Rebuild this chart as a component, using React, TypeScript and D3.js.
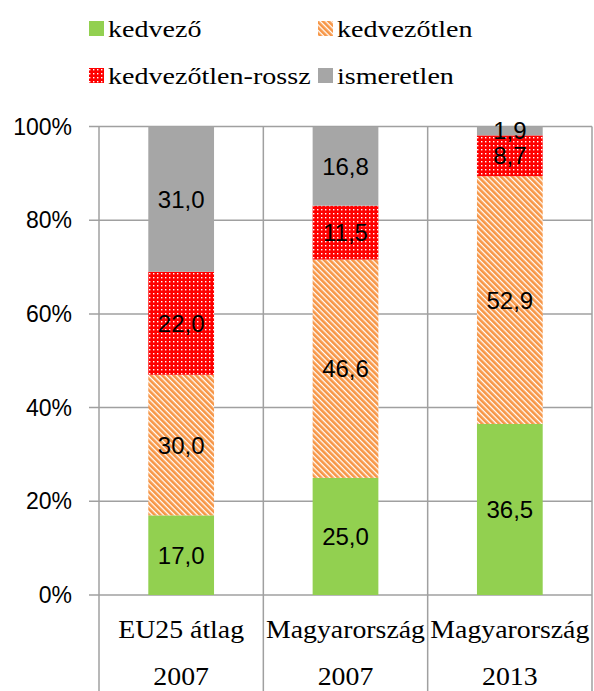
import React from 'react';
import * as d3 from 'd3';

const categories = ['EU25 átlag', 'Magyarország', 'Magyarország'];
const years = ['2007', '2007', '2013'];
const seriesNames = ['kedvező', 'kedvezőtlen', 'kedvezőtlen-rossz', 'ismeretlen'];
const kedvezo = [17.0, 25.0, 36.5];
const kedvezotlen = [30.0, 46.6, 52.9];
const rossz = [22.0, 11.5, 8.7];
const ismeretlen = [31.0, 16.8, 1.9];
const yTicks = [0, 20, 40, 60, 80, 100];

const W = 594;
const H = 691;
const plot = { left: 99, right: 592, top: 126.5, bottom: 595 };
const serif = '"Liberation Serif", "Times New Roman", serif';
const sans = '"Liberation Sans", Arial, sans-serif';
const fills = ['#92D050', 'url(#stripes)', 'url(#dots)', '#A6A6A6'];

const fmt = (v: number) => v.toFixed(1).replace('.', ',');

const App: React.FC = () => {
  const keys = categories.map((_, i) => `c${i}`);
  const rows = keys.map((k, i) => ({
    key: k,
    s0: kedvezo[i],
    s1: kedvezotlen[i],
    s2: rossz[i],
    s3: ismeretlen[i],
  }));
  const stack = d3.stack<any>().keys(['s0', 's1', 's2', 's3']);
  const layers = stack(rows);

  const x = d3.scaleBand<string>().domain(keys).range([plot.left, plot.right]).padding(0);
  const y = d3.scaleLinear().domain([0, 100]).range([plot.bottom, plot.top]);
  const barW = x.bandwidth() * 0.4;

  const legendPos = [
    { x: 89, y: 21 },
    { x: 318, y: 21 },
    { x: 89, y: 68 },
    { x: 318, y: 68 },
  ];

  return (
    <svg width={W} height={H} style={{ position: 'absolute', left: 0, top: 0, background: '#fff' }}>
      <defs>
        <pattern id="stripes" width="4" height="4" patternUnits="userSpaceOnUse" patternTransform="rotate(-45)">
          <rect width="4" height="4" fill="#fff" />
          <rect width="2.7" height="4" fill="#F79646" />
        </pattern>
        <pattern id="dots" width="4" height="4" patternUnits="userSpaceOnUse">
          <rect width="4" height="4" fill="#FF0000" />
          <rect x="1" y="1" width="1.4" height="1.4" fill="#fff" />
        </pattern>
      </defs>

      {/* horizontal gridlines + tick marks */}
      {yTicks.map(t => (
        <g key={t}>
          <line x1={plot.left - 10} x2={plot.right} y1={y(t)} y2={y(t)} stroke="#A0A0A0" strokeWidth={1.5} />
          <text x={72} y={y(t)} textAnchor="end" dominantBaseline="central" fontFamily={sans} fontSize={23} fill="#000">
            {t}%
          </text>
        </g>
      ))}

      {/* vertical category separators */}
      {[plot.left, ...keys.map(k => (x(k) as number) + x.bandwidth())].map((vx, i) => (
        <line key={i} x1={vx} x2={vx} y1={plot.top} y2={H} stroke="#A0A0A0" strokeWidth={1.5} />
      ))}

      {/* bars */}
      {layers.map((layer, li) => (
        <g key={li}>
          {layer.map((d: any, i: number) => {
            const cx = (x(keys[i]) as number) + x.bandwidth() / 2;
            return (
              <rect
                key={i}
                x={cx - barW / 2}
                y={y(d[1])}
                width={barW}
                height={y(d[0]) - y(d[1])}
                fill={fills[li]}
              />
            );
          })}
        </g>
      ))}

      {/* data labels */}
      {layers.map((layer, li) => (
        <g key={`l${li}`}>
          {layer.map((d: any, i: number) => {
            const cx = (x(keys[i]) as number) + x.bandwidth() / 2;
            return (
              <text
                key={i}
                x={cx}
                y={y((d[0] + d[1]) / 2)}
                textAnchor="middle"
                dominantBaseline="central"
                fontFamily={sans}
                fontSize={24}
                fill="#000"
              >
                {fmt(d[1] - d[0])}
              </text>
            );
          })}
        </g>
      ))}

      {/* category labels */}
      {keys.map((k, i) => {
        const cx = (x(k) as number) + x.bandwidth() / 2;
        return (
          <g key={k}>
            <text transform={`translate(${cx},638) scale(1.07,1)`} textAnchor="middle" fontFamily={serif} fontSize={26} fill="#000">
              {categories[i]}
            </text>
            <text transform={`translate(${cx},685) scale(1.07,1)`} textAnchor="middle" fontFamily={serif} fontSize={26} fill="#000">
              {years[i]}
            </text>
          </g>
        );
      })}

      {/* legend */}
      {seriesNames.map((name, i) => (
        <g key={name}>
          <rect x={legendPos[i].x} y={legendPos[i].y} width={15} height={15} fill={fills[i]} />
          <text
            transform={`translate(${legendPos[i].x + 19},${legendPos[i].y + 16}) scale(1.17,1)`}
            fontFamily={serif}
            fontSize={24}
            fill="#000"
          >
            {name}
          </text>
        </g>
      ))}
    </svg>
  );
};

export default App;
